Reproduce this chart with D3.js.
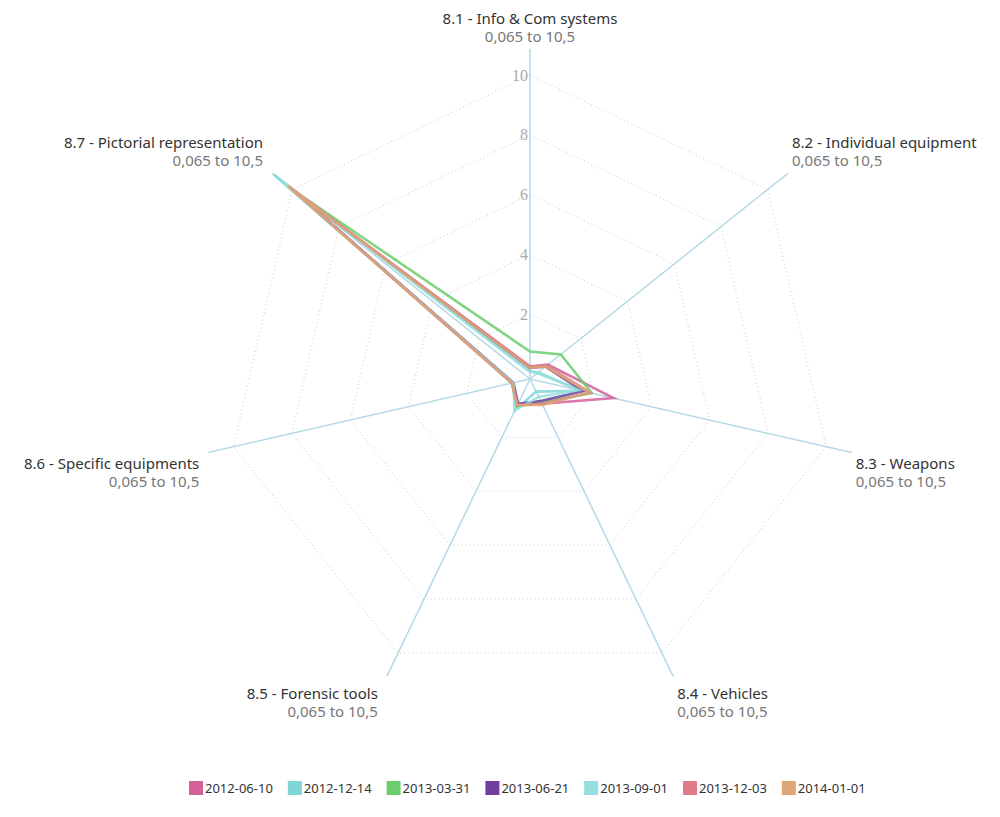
<!DOCTYPE html>
<html>
<head>
<meta charset="utf-8">
<script src="https://cdn.jsdelivr.net/npm/d3@7"></script>
<style>
  body { margin: 0; background: #fff; }
  svg { display: block; }
</style>
</head>
<body>
<div id="chart"></div>
<script>
// Radar chart of category scores per date

// Axis names and the range text shown under each one
const axes = ["8.1 - Info & Com systems", "8.2 - Individual equipment", "8.3 - Weapons",
  "8.4 - Vehicles", "8.5 - Forensic tools", "8.6 - Specific equipments", "8.7 - Pictorial representation"];
const rangeText = "0,065 to 10,5";

// Ring ticks
const ticks = [2, 4, 6, 8, 10];

// Series (dates) and their colours
const dates = ["2012-06-10", "2012-12-14", "2013-03-31", "2013-06-21", "2013-09-01", "2013-12-03", "2014-01-01"];
const colors = ["#d5609a", "#7fd6d4", "#6ccd6c", "#6f3f9f", "#95e0df", "#e07a88", "#dca676"];

// Values per series, one per axis
const v20120610 = [0.25, 0.6, 2.7, 0.75, 0.8, 0.45, 10.0];
const v20121214 = [0.1, 0.15, 1.6, 0.3, 1.0, 0.4, 10.8];
const v20130331 = [0.75, 1.15, 1.95, 0.7, 0.85, 0.45, 10.0];
const v20130621 = [0.2, 0.5, 1.65, 0.65, 0.75, 0.4, 10.1];
const v20130901 = [0.07, 0.2, 1.5, 0.5, 1.0, 0.4, 10.5];
const v20131203 = [0.25, 0.55, 1.9, 0.75, 0.8, 0.45, 10.1];
const v20140101 = [0.2, 0.5, 1.85, 0.8, 0.8, 0.45, 10.2];
const values = [v20120610, v20121214, v20130331, v20130621, v20130901, v20131203, v20140101];

// -------------------------------

const width = 1000, height = 817;
const cx = 530, cy = 379, axisLen = 330;

let svg = d3.select("#chart").append("svg")
  .attr("width", width)
  .attr("height", height)
  .style("background", "#fff");

let g = svg.append("g").attr("transform", "translate(" + cx + "," + cy + ")");

// radius scale
let r = d3.scaleLinear().domain([0, 10.87]).range([5, axisLen]);

// angle of each axis, clockwise from the top
let angle = d3.scalePoint().domain(d3.range(axes.length)).range([0, 2 * Math.PI * (axes.length - 1) / axes.length]);

let pt = (i, rad) => [Math.sin(angle(i)) * rad, -Math.cos(angle(i)) * rad];

// dotted rings
g.selectAll(".ring")
  .data(ticks)
  .enter().append("polygon")
  .attr("class", "ring")
  .attr("points", d => d3.range(axes.length).map(i => pt(i, r(d)).join(",")).join(" "))
  .style("fill", "none")
  .style("stroke", "#c8c8c8")
  .style("stroke-width", 1)
  .style("stroke-dasharray", "1,3");

// axis lines
g.selectAll(".axis")
  .data(axes)
  .enter().append("line")
  .attr("class", "axis")
  .attr("x1", 0).attr("y1", 0)
  .attr("x2", (d, i) => pt(i, axisLen)[0])
  .attr("y2", (d, i) => pt(i, axisLen)[1])
  .style("stroke", "#b5d9e6")
  .style("stroke-width", 1.5);

// tick labels on the first axis
g.selectAll(".tick")
  .data(ticks)
  .enter().append("text")
  .attr("class", "tick")
  .attr("x", -2)
  .attr("y", d => -r(d))
  .attr("dy", "0.35em")
  .attr("text-anchor", "end")
  .style("font-family", "'Liberation Serif', serif")
  .style("font-size", "16px")
  .style("fill", "#aaa")
  .text(d => d);

// series lines
let line = d3.lineRadial()
  .angle((d, i) => angle(i))
  .radius(d => r(d))
  .curve(d3.curveLinearClosed);

g.selectAll(".series")
  .data(values)
  .enter().append("path")
  .attr("class", "series")
  .attr("d", d => line(d))
  .style("fill", "none")
  .style("stroke", (d, i) => colors[i])
  .style("stroke-width", 2.6)
  .style("stroke-opacity", 0.85)
  .style("stroke-linejoin", "miter");

// axis titles
let labels = g.selectAll(".label")
  .data(axes)
  .enter().append("text")
  .attr("class", "label")
  .style("font-family", "'Noto Sans', sans-serif")
  .style("font-size", "15px")
  .attr("text-anchor", (d, i) => {
    let x = pt(i, axisLen)[0];
    return Math.abs(x) < 1 ? "middle" : (x > 0 ? "start" : "end");
  })
  .attr("transform", (d, i) => {
    let p = pt(i, axisLen);
    let uy = p[1] / axisLen;
    let x = Math.abs(p[0]) < 1 ? 0 : (p[0] > 0 ? p[0] + 4 : p[0] - 9);
    let y = uy < 0 ? p[1] - 25 : p[1] + 14 + 10 * uy;
    return "translate(" + x + "," + y + ")";
  });

labels.append("tspan")
  .attr("x", 0)
  .attr("y", 0)
  .style("fill", "#333")
  .text(d => d);

labels.append("tspan")
  .attr("x", 0)
  .attr("y", 18)
  .style("fill", "#777")
  .text(rangeText);

// legend
const itemW = 98.8;
let legend = svg.append("g")
  .attr("transform", "translate(189,781)");

let items = legend.selectAll(".item")
  .data(dates)
  .enter().append("g")
  .attr("class", "item")
  .attr("transform", (d, i) => "translate(" + i * itemW + ",0)");

items.append("rect")
  .attr("width", 14)
  .attr("height", 14)
  .style("fill", (d, i) => colors[i]);

items.append("text")
  .attr("x", 16)
  .attr("y", 12)
  .style("font-family", "'Noto Sans', sans-serif")
  .style("font-size", "13px")
  .style("fill", "#333")
  .text(d => d);
</script>
</body>
</html>
